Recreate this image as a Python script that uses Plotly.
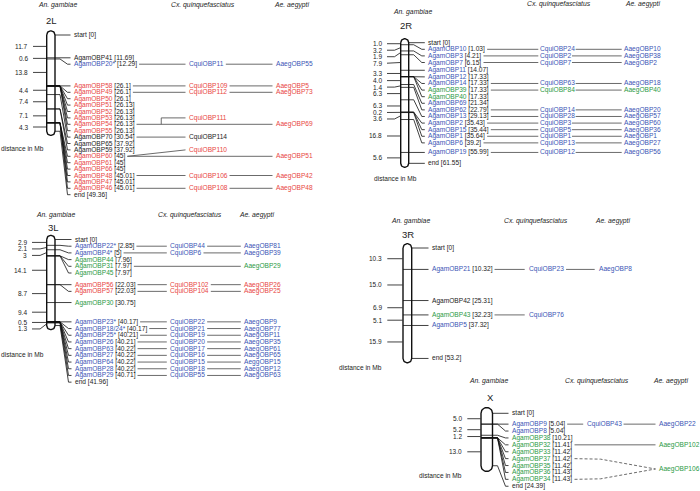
import plotly.graph_objects as go
import numpy as np

# ======================= DATA =======================
# --- chromosome 2L ---
chr2L_genes = ["start", "AgamOBP41", "AgamOBP20*", "AgamOBP58", "AgamOBP49", "AgamOBP50",
               "AgamOBP51", "AgamOBP52", "AgamOBP53", "AgamOBP54", "AgamOBP55", "AgamOBP70",
               "AgamOBP65", "AgamOBP59", "AgamOBP60", "AgamOBP61", "AgamOBP66", "AgamOBP48",
               "AgamOBP47", "AgamOBP46", "end"]
chr2L_mb = [0, 11.69, 12.29, 26.1, 26.1, 26.1, 26.13, 26.13, 26.13, 26.13, 26.13, 30.54,
            37.92, 37.92, 45, 45, 45, 45.01, 45.01, 45.01, 49.36]
chr2L_group = ["k", "k", "b", "r", "r", "r", "r", "r", "r", "r", "r", "k",
               "k", "k", "r", "r", "r", "r", "r", "r", "k"]
chr2L_intervals = ["11.7", "0.6", "13.8", "4.4", "7.4", "7.1", "4.3"]
chr2L_links = [
    ("AgamOBP20*", "CquiOBP11", "b", "AaegOBP55", "b"),
    ("AgamOBP58", "CquiOBP109", "r", "AaegOBP5", "r"),
    ("AgamOBP49", "CquiOBP112", "r", "AaegOBP73", "r"),
    ("AgamOBP54", "CquiOBP111", "r", "AaegOBP69", "r"),
    ("AgamOBP70", "CquiOBP114", "k", None, None),
    ("AgamOBP60", "CquiOBP110", "r", "AaegOBP51", "r"),
    ("AgamOBP48", "CquiOBP106", "r", "AaegOBP42", "r"),
    ("AgamOBP46", "CquiOBP108", "r", "AaegOBP48", "r"),
]

# --- chromosome 2R ---
chr2R_genes = ["start", "AgamOBP10", "AgamOBP3", "AgamOBP7", "AgamOBP11", "AgamOBP12",
               "AgamOBP14", "AgamOBP39", "AgamOBP40", "AgamOBP69", "AgamOBP62", "AgamOBP13",
               "AgamOBP2", "AgamOBP15", "AgamOBP1", "AgamOBP6", "AgamOBP19", "end"]
chr2R_mb = [0, 1.03, 4.21, 6.15, 14.07, 17.33, 17.33, 17.33, 17.33, 21.34, 22.79, 29.13,
            35.43, 35.44, 35.64, 39.2, 55.99, 61.55]
chr2R_group = ["k", "b", "b", "b", "b", "b", "b", "g", "g", "b", "b", "b",
               "b", "b", "b", "b", "b", "k"]
chr2R_intervals = ["1.0", "3.2", "1.9", "7.9", "3.3", "4.0", "1.4", "6.3", "6.3",
                   "0.2", "3.6", "16.8", "5.6"]
chr2R_links = [
    ("AgamOBP10", "CquiOBP24", "b", "AaegOBP10", "b"),
    ("AgamOBP3", "CquiOBP2", "b", "AaegOBP38", "b"),
    ("AgamOBP7", "CquiOBP7", "b", "AaegOBP2", "b"),
    ("AgamOBP14", "CquiOBP63", "b", "AaegOBP18", "b"),
    ("AgamOBP39", "CquiOBP84", "g", "AaegOBP40", "g"),
    ("AgamOBP62", "CquiOBP14", "b", "AaegOBP20", "b"),
    ("AgamOBP13", "CquiOBP28", "b", "AaegOBP57", "b"),
    ("AgamOBP2", "CquiOBP3", "b", "AaegOBP60", "b"),
    ("AgamOBP15", "CquiOBP5", "b", "AaegOBP36", "b"),
    ("AgamOBP1", "CquiOBP1", "b", "AaegOBP1", "b"),
    ("AgamOBP6", "CquiOBP13", "b", "AaegOBP27", "b"),
    ("AgamOBP19", "CquiOBP12", "b", "AaegOBP56", "b"),
]

# --- chromosome 3L ---
chr3L_genes = ["start", "AgamOBP22*", "AgamOBP4*", "AgamOBP44", "AgamOBP31", "AgamOBP45",
               "AgamOBP56", "AgamOBP57", "AgamOBP30", "AgamOBP23*", "AgamOBP18/24*",
               "AgamOBP25*", "AgamOBP26", "AgamOBP63", "AgamOBP27", "AgamOBP64",
               "AgamOBP28", "AgamOBP29", "end"]
chr3L_mb = [0, 2.85, 5, 7.96, 7.97, 7.97, 22.03, 22.03, 30.75, 40.17, 40.17, 40.21, 40.21,
            40.22, 40.22, 40.22, 40.22, 40.71, 41.96]
chr3L_group = ["k", "b", "b", "g", "g", "g", "r", "r", "g", "b", "b", "b", "b",
               "b", "b", "b", "b", "b", "k"]
chr3L_intervals = ["2.9", "2.1", "3", "14.1", "8.7", "9.4", "0.5", "1.3"]
chr3L_links = [
    ("AgamOBP22*", "CquiOBP44", "b", "AaegOBP81", "b"),
    ("AgamOBP4*", "CquiOBP6", "b", "AaegOBP39", "b"),
    ("AgamOBP31", None, None, "AaegOBP29", "g"),
    ("AgamOBP56", "CquiOBP102", "r", "AaegOBP26", "r"),
    ("AgamOBP57", "CquiOBP104", "r", "AaegOBP25", "r"),
    ("AgamOBP23*", "CquiOBP22", "b", "AaegOBP9", "b"),
    ("AgamOBP18/24*", "CquiOBP21", "b", "AaegOBP77", "b"),
    ("AgamOBP25*", "CquiOBP19", "b", "AaegOBP11", "b"),
    ("AgamOBP26", "CquiOBP20", "b", "AaegOBP35", "b"),
    ("AgamOBP63", "CquiOBP17", "b", "AaegOBP61", "b"),
    ("AgamOBP27", "CquiOBP16", "b", "AaegOBP65", "b"),
    ("AgamOBP64", "CquiOBP15", "b", "AeggOBP15", "b"),
    ("AgamOBP28", "CquiOBP18", "b", "AaegOBP12", "b"),
    ("AgamOBP29", "CquiOBP55", "b", "AaegOBP63", "b"),
]

# --- chromosome 3R ---
chr3R_genes = ["start", "AgamOBP21", "AgamOBP42", "AgamOBP43", "AgamOBP5", "end"]
chr3R_mb = [0, 10.32, 25.31, 32.23, 37.32, 53.2]
chr3R_group = ["k", "b", "k", "g", "b", "k"]
chr3R_intervals = ["10.3", "15.0", "6.9", "5.1", "15.9"]
chr3R_links = [
    ("AgamOBP21", "CquiOBP23", "b", "AaegOBP8", "b"),
    ("AgamOBP43", "CquiOBP76", "b", None, None),
]

# --- chromosome X ---
chrX_genes = ["start", "AgamOBP9", "AgamOBP8", "AgamOBP38", "AgamOBP32", "AgamOBP33",
              "AgamOBP37", "AgamOBP35", "AgamOBP36", "AgamOBP34", "end"]
chrX_mb = [0, 5.04, 5.04, 10.21, 11.41, 11.42, 11.42, 11.42, 11.43, 11.43, 24.39]
chrX_group = ["k", "b", "b", "g", "g", "g", "g", "g", "g", "g", "k"]
chrX_intervals = ["5.0", "5.2", "1.2", "13.0"]
chrX_links = [
    ("AgamOBP9", "CquiOBP43", "b", "AaegOBP22", "b"),
    ("AgamOBP32", None, None, "AaegOBP102", "g"),
    ("AgamOBP37", None, None, "AaegOBP106", "g"),
    ("AgamOBP34", None, None, "AaegOBP106", "g"),
]

species_headers = ["An. gambiae", "Cx. quinquefasciatus", "Ae. aegypti"]
axis_note = "distance in Mb"

# ======================= STYLE / LAYOUT =======================
FONT = "Liberation Sans, Arial, Helvetica, sans-serif"
COL = {"k": "#1c1c1c", "r": "#e8463f", "b": "#3a55b5", "g": "#2b9a45"}
LINK_COL = "#5a5a5a"
CHR_COL = "#111111"
FS = 6.6      # gene label font size
FS_NUM = 6.5  # interval label font size
FS_HDR = 6.8
FS_TITLE = 9.5
FS_NOTE = 6.6

panels = [
    dict(name="2L", genes=chr2L_genes, mb=chr2L_mb, grp=chr2L_group, iv=chr2L_intervals,
         links=chr2L_links, cx=46.7, cw=8.3, y0=35, k=1.95, s=6.4, xl=73, nr=29,
         xc=188, xa=275, title=(51, 20), hdr=[(57, 5), (203, 5), (291, 5)], dist=(45, 148),
         special={"AgamOBP54": "fork", "AgamOBP60": "diag"}, gap=2.5),
    dict(name="2R", genes=chr2R_genes, mb=chr2R_mb, grp=chr2R_group, iv=chr2R_intervals,
         links=chr2R_links, cx=400.7, cw=8.0, y0=42.7, k=1.96, s=6.6, xl=427.3, nr=383,
         xc=539.3, xa=622.7, title=(406, 25), hdr=[(412, 12), (559, 4), (642, 4)],
         dist=(418, 178), special={}, gap=1.0),
    dict(name="3L", genes=chr3L_genes, mb=chr3L_mb, grp=chr3L_group, iv=chr3L_intervals,
         links=chr3L_links, cx=46.7, cw=8.3, y0=239.5, k=2.05, s=6.7, xl=74, nr=28,
         xc=169.3, xa=243.3, title=(53, 227.7), hdr=[(55, 215), (190, 215), (256, 215)],
         dist=(45, 354.3), special={}, gap=2.5),
    dict(name="3R", genes=chr3R_genes, mb=chr3R_mb, grp=chr3R_group, iv=chr3R_intervals,
         links=chr3R_links, cx=403, cw=8.7, y0=248, k=2.076, s=6.7, xl=431, nr=383.3,
         xc=527.7, xa=597.7, title=(408, 234), hdr=[(410, 221), (536, 221), (612, 221)],
         dist=(383, 367), special={}, gap=3.0),
    dict(name="X", genes=chrX_genes, mb=chrX_mb, grp=chrX_group, iv=chrX_intervals,
         links=chrX_links, cx=481, cw=11.5, y0=413.3, k=2.15, s=6.9, xl=511, nr=463.3,
         xc=585.7, xa=658, title=(490, 397), hdr=[(488, 381), (597, 381), (670, 381)],
         dist=(462.7, 475), special={"AgamOBP37": "dash", "AgamOBP34": "dash"}, gap=2.5),
]

# Arial / Liberation Sans advance widths (per 1000 em)
W = {c: 556 for c in "0123456789abdeghnopqu"}
W.update({".": 278, " ": 278, "[": 278, "]": 278, "*": 389, "/": 278, "i": 222, "l": 222,
          "t": 278, "f": 278, "r": 333, "s": 500, "c": 500, "x": 500, "y": 500, "m": 833,
          "A": 667, "B": 667, "P": 667, "O": 778, "C": 722, "M": 833, "X": 667})


def tw(s, size):
    return sum(W.get(c, 556) for c in s) * size / 1000.0


def spread(ys, step):
    out, prev = [], -1e9
    for y in ys:
        y2 = max(y, prev + step)
        out.append(y2)
        prev = y2
    return out


def fmt(v):
    return f"{v:g}"


annotations = []
seg_chr = ([], [])      # black chromosome lines
seg_link = ([], [])     # grey link lines
seg_dash = ([], [])     # dashed links
chrom_traces = []


def add_seg(store, pts):
    for x, y in pts:
        store[0].append(x)
        store[1].append(y)
    store[0].append(None)
    store[1].append(None)


def text(x, y, t, size=FS, anchor="left", color=COL["k"], italic=False):
    if italic:
        t = "<i>" + t + "</i>"
    annotations.append(dict(x=x, y=y, xref="x", yref="y", text=t, showarrow=False,
                            xanchor=anchor, yanchor="middle", borderpad=0,
                            font=dict(family=FONT, size=size, color=color)))


for P in panels:
    cx, cw, y0, k, s = P["cx"], P["cw"], P["y0"], P["k"], P["s"]
    r = cw / 2.0
    xm = cx + r
    ypos = [y0 + k * v for v in P["mb"]]
    ylab = spread(ypos, s)
    y_end = ypos[-1]

    # chromosome capsule outline
    t1 = np.linspace(np.pi, 0, 20)
    t2 = np.linspace(0, -np.pi, 20)
    xs = list(xm + r * np.cos(t1)) + list(xm + r * np.cos(t2)) + [xm - r]
    ys = list(y0 - r * np.sin(t1)) + list(y_end - r * np.sin(t2)) + [y0]
    chrom_traces.append(go.Scatter(x=xs, y=ys, mode="lines", fill="toself",
                                   fillcolor="white", line=dict(color=CHR_COL, width=1.4),
                                   hoverinfo="skip", showlegend=False))

    # headers and title
    for (hx, hy), h in zip(P["hdr"], species_headers):
        text(hx, hy, h, size=FS_HDR, anchor="center", italic=True)
    text(P["title"][0], P["title"][1], P["name"], size=FS_TITLE, anchor="center")
    text(P["dist"][0], P["dist"][1], axis_note, size=FS_NOTE, anchor="right")

    # gene rows
    row_y = {}
    row_end = {}
    xl = P["xl"]
    for g, v, grp, yp, yl in zip(P["genes"], P["mb"], P["grp"], ypos, ylab):
        label = f"<span style='color:{COL[grp]}'>{g}</span> [{fmt(v)}]"
        text(xl, yl, label)
        row_y[g] = yl
        row_end[g] = xl + tw(f"{g} [{fmt(v)}]", FS)
        if g not in ("start", "end"):
            add_seg(seg_chr, [(cx, yp), (cx + cw, yp)])
        if abs(yl - yp) < 0.3:
            add_seg(seg_chr, [(cx + cw, yp), (xl - 2.5, yl)])
        else:
            add_seg(seg_chr, [(cx + cw, yp), (cx + cw + 5, yp), (xl - 5.5, yl), (xl - 2.5, yl)])

    # interval labels on the left
    uniq = sorted(set(P["mb"]))
    mids = [(a + b) / 2.0 for a, b in zip(uniq[:-1], uniq[1:]) if b - a >= 0.05]
    ymid = [y0 + k * m for m in mids]
    yiv = spread(ymid, 6.5)
    for lab, ym, yl in zip(P["iv"], ymid, yiv):
        text(P["nr"], yl, lab, size=FS_NUM, anchor="right")
        xa0 = P["nr"] + 4
        xb = xa0 + (cx - xa0) * 0.55
        add_seg(seg_chr, [(xa0, yl), (xb, yl), (cx - 0.5, ym)])

    # links to other species
    gap = P["gap"]
    aaeg_rows = {}
    for agam, cq, cqc, ae, aec in P["links"]:
        if ae:
            aaeg_rows.setdefault(ae, []).append(row_y[agam])
    aaeg_y = {a: float(np.mean(v)) for a, v in aaeg_rows.items()}
    aaeg_done = set()
    for agam, cq, cqc, ae, aec in P["links"]:
        y = row_y[agam]
        x_start = row_end[agam] + 3
        mode = P["special"].get(agam, "")
        if mode == "fork":
            yc = y - s
            xf = x_start + (P["xc"] - x_start) * 0.48
            add_seg(seg_link, [(x_start, y), (P["xa"] - gap, y)])
            add_seg(seg_link, [(xf, y), (xf, yc), (P["xc"] - gap, yc)])
            text(P["xc"], yc, cq, color=COL[cqc])
        elif mode == "diag":
            yc = y - s
            add_seg(seg_link, [(x_start, y), (P["xa"] - gap, y)])
            add_seg(seg_link, [(x_start, y), (P["xc"] - gap, yc)])
            text(P["xc"], yc, cq, color=COL[cqc])
        elif mode == "dash":
            ya = aaeg_y[ae]
            add_seg(seg_dash, [(x_start, y), (x_start + 26, y + (ya - y) * 0.05),
                               (P["xa"] - gap, ya)])
        else:
            if cq:
                add_seg(seg_link, [(x_start, y), (P["xc"] - gap, y)])
                text(P["xc"], y, cq, color=COL[cqc])
                if ae:
                    add_seg(seg_link, [(P["xc"] + tw(cq, FS) + gap + 0.5, y),
                                       (P["xa"] - gap, y)])
            elif ae:
                add_seg(seg_link, [(x_start, y), (P["xa"] - gap, y)])
        if ae and ae not in aaeg_done:
            ya = aaeg_y[ae] if mode == "dash" else y
            text(P["xa"], ya, ae, color=COL[aec])
            aaeg_done.add(ae)

fig = go.Figure()
fig.add_trace(go.Scatter(x=seg_link[0], y=seg_link[1], mode="lines",
                         line=dict(color=LINK_COL, width=0.9), hoverinfo="skip",
                         showlegend=False))
fig.add_trace(go.Scatter(x=seg_dash[0], y=seg_dash[1], mode="lines",
                         line=dict(color=LINK_COL, width=0.9, dash="3px,2px"),
                         hoverinfo="skip", showlegend=False))
for tr in chrom_traces:
    fig.add_trace(tr)
fig.add_trace(go.Scatter(x=seg_chr[0], y=seg_chr[1], mode="lines",
                         line=dict(color=CHR_COL, width=0.8), hoverinfo="skip",
                         showlegend=False))

fig.update_layout(
    width=700, height=491, margin=dict(l=0, r=0, t=0, b=0),
    paper_bgcolor="white", plot_bgcolor="white",
    xaxis=dict(range=[0, 700], visible=False, fixedrange=True),
    yaxis=dict(range=[491, 0], visible=False, fixedrange=True),
    annotations=annotations, showlegend=False,
)
fig.write_html("out.html", config={"displayModeBar": False, "staticPlot": True},
               post_script="document.body.style.margin='0';document.body.style.overflow='hidden';")
